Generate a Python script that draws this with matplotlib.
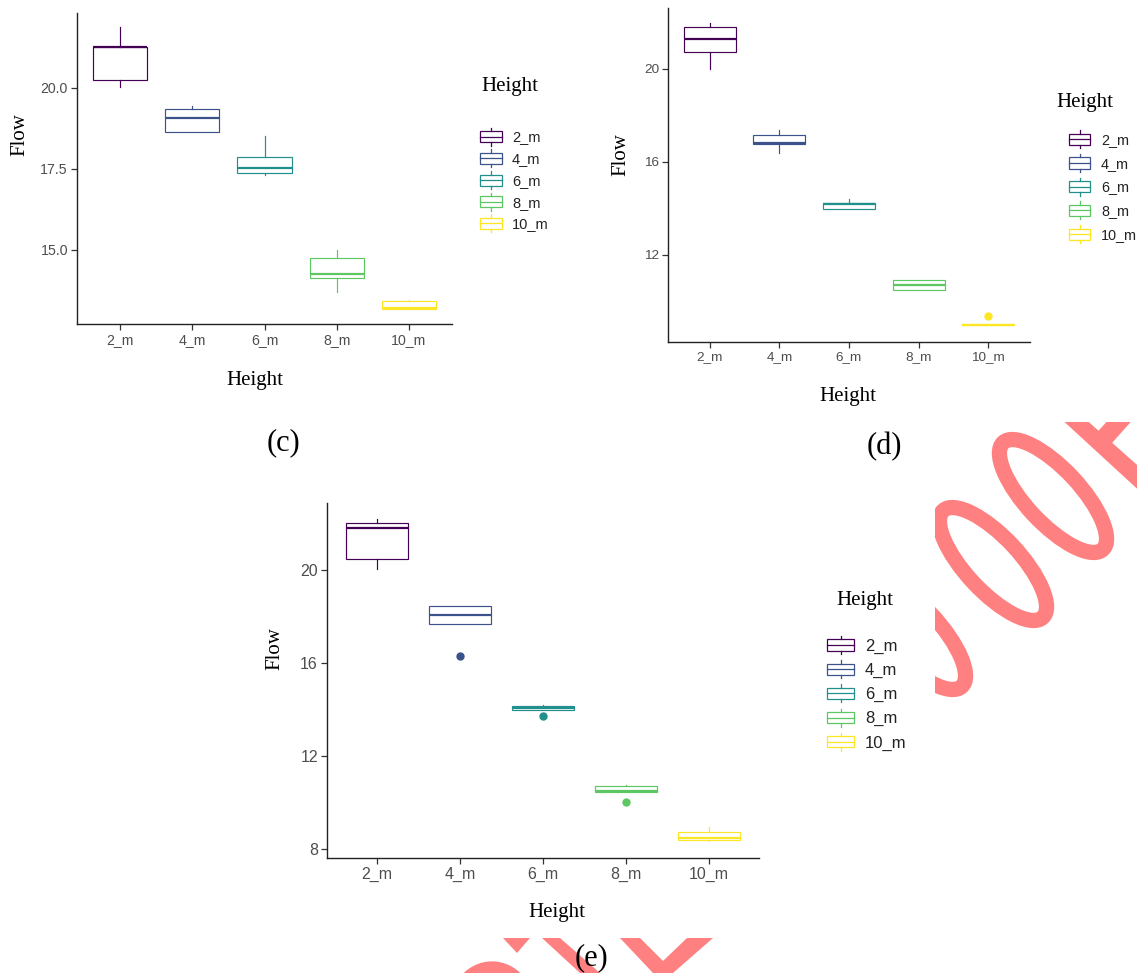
import matplotlib
matplotlib.use("Agg")
import matplotlib.pyplot as plt
from matplotlib.patches import Rectangle, Patch, Ellipse, Polygon
from matplotlib.lines import Line2D
from matplotlib.legend_handler import HandlerBase

W, H = 1137, 973
SERIF = "Liberation Serif"
SANS = "Liberation Sans"
plt.rcParams["font.family"] = SANS

heights = ["2_m", "4_m", "6_m", "8_m", "10_m"]
colors = ["#440154", "#3B528B", "#21908C", "#5DC863", "#FDE725"]

# panel (c): box stats
c_low = [20.03, 18.64, 17.30, 13.70, 13.18]
c_q1 = [20.24, 18.64, 17.36, 14.13, 13.18]
c_med = [21.24, 19.07, 17.52, 14.25, 13.20]
c_q3 = [21.24, 19.34, 17.85, 14.75, 13.43]
c_high = [21.86, 19.42, 18.50, 15.00, 13.46]
c_out = [[], [], [], [], []]

# panel (d)
d_low = [20.00, 16.37, 13.95, 10.49, 9.00]
d_q1 = [20.70, 16.76, 13.95, 10.49, 9.00]
d_med = [21.28, 16.80, 14.17, 10.72, 9.00]
d_q3 = [21.78, 17.16, 14.21, 10.90, 9.02]
d_high = [21.94, 17.35, 14.38, 10.90, 9.02]
d_out = [[], [], [], [], [9.37]]

# panel (e)
e_low = [20.04, 17.69, 13.99, 10.46, 8.35]
e_q1 = [20.50, 17.69, 13.99, 10.46, 8.39]
e_med = [21.81, 18.08, 14.06, 10.50, 8.45]
e_q3 = [22.02, 18.44, 14.15, 10.70, 8.71]
e_high = [22.20, 18.48, 14.20, 10.75, 8.94]
e_out = [[], [16.31], [13.73], [10.00], []]

c_ticks = [15.0, 17.5, 20.0]
d_ticks = [12, 16, 20]
e_ticks = [8, 12, 16, 20]


def fx(x, y):
    # image pixel -> figure fraction
    return x / W, 1 - y / H


def inch(x, y):
    return x / 100, (H - y) / 100


class BoxKey(HandlerBase):
    def create_artists(self, legend, orig_handle, xdescent, ydescent,
                       width, height, fontsize, trans):
        col = orig_handle.get_edgecolor()
        x0, y0 = -xdescent, -ydescent
        bh = 0.62 * height
        by = y0 + (height - bh) / 2
        xm = x0 + width / 2
        arts = [Rectangle((x0, by), width, bh, facecolor="white", edgecolor=col, lw=0.9),
                Line2D([x0, x0 + width], [by + bh / 2] * 2, color=col, lw=0.9),
                Line2D([xm, xm], [by + bh, y0 + height], color=col, lw=0.9),
                Line2D([xm, xm], [y0, by], color=col, lw=0.9)]
        for a in arts:
            a.set_transform(trans)
        return arts


def draw_boxes(ax, low, q1, med, q3, high, out):
    for i, col in enumerate(colors):
        st = [dict(whislo=low[i], q1=q1[i], med=med[i], q3=q3[i],
                   whishi=high[i], fliers=out[i])]
        ax.bxp(st, positions=[i], widths=0.75, showcaps=False, patch_artist=True,
               manage_ticks=False,
               boxprops=dict(facecolor="white", edgecolor=col, linewidth=0.85),
               whiskerprops=dict(color=col, linewidth=0.85),
               medianprops=dict(color=col, linewidth=1.6),
               flierprops=dict(marker="o", markersize=5, markerfacecolor=col,
                               markeredgecolor=col, linestyle="none"))


layout = [
    dict(stats=(c_low, c_q1, c_med, c_q3, c_high, c_out), ticks=c_ticks, fmt="{:.1f}",
         rect=(77, 13, 452, 324), ylim=(12.72, 22.3), tick_fs=10.2, tag="(c)",
         ylab=(20, 135), xlab=(255, 381), tagpos=(283, 443),
         ltitle=(481, 87), leg=(480, 136.7, 22, 21.7, 10), leg_fs=10.5),
    dict(stats=(d_low, d_q1, d_med, d_q3, d_high, d_out), ticks=d_ticks, fmt="{:.0f}",
         rect=(668, 8, 1030, 342), ylim=(8.25, 22.6), tick_fs=9.7, tag="(d)",
         ylab=(621, 155), xlab=(848, 397), tagpos=(884, 447),
         ltitle=(1056, 103), leg=(1069, 139.3, 21, 23.7, 11), leg_fs=10.4),
    dict(stats=(e_low, e_q1, e_med, e_q3, e_high, e_out), ticks=e_ticks, fmt="{:.0f}",
         rect=(327, 503, 759, 858), ylim=(7.6, 22.9), tick_fs=11.5, tag="(e)",
         ylab=(275, 649), xlab=(557, 912), tagpos=(592, 958),
         ltitle=(836, 600), leg=(827, 645, 27, 24.2, 11), leg_fs=12),
]

fig = plt.figure(figsize=(W / 100, H / 100), dpi=100)

for p in layout:
    l, t, r, b = p["rect"]
    ax = fig.add_axes([l / W, 1 - b / H, (r - l) / W, (b - t) / H])
    draw_boxes(ax, *p["stats"])
    ax.set_xlim(-0.6, 4.6)
    ax.set_ylim(*p["ylim"])
    ax.set_xticks(range(len(heights)))
    ax.set_xticklabels(heights)
    ax.set_yticks(p["ticks"])
    ax.set_yticklabels([p["fmt"].format(v) for v in p["ticks"]])
    for sp in ("top", "right"):
        ax.spines[sp].set_visible(False)
    for sp in ("left", "bottom"):
        ax.spines[sp].set_linewidth(1.0)
        ax.spines[sp].set_color("#222222")
    ax.tick_params(length=4, width=0.9, color="#333333", labelcolor="#4D4D4D",
                   labelsize=p["tick_fs"], pad=2.5)

    fig.text(*fx(*p["ylab"]), "Flow", family=SERIF, size=15, rotation=90,
             ha="center", va="center")
    fig.text(*fx(*p["xlab"]), "Height", family=SERIF, size=15, ha="center", va="center")
    fig.text(*fx(*p["tagpos"]), p["tag"], family=SERIF, size=22, ha="center",
             va="center", zorder=5)

    # legend: title as separate text, keys drawn by BoxKey
    fig.text(*fx(*p["ltitle"]), "Height", family=SERIF, size=15, ha="left", va="center")
    left, first, kw, pitch, gap = p["leg"]
    fs = p["leg_fs"]
    fs_px = fs * 100 / 72
    kh = 18
    # matplotlib trims 0.35*fs*(hh-0.7) off the handle height, undo that
    hh = (kh * 0.72 / fs - 0.245) / 0.65
    handles = [Patch(edgecolor=c, facecolor="white") for c in colors]
    fig.legend(handles, heights, handler_map={Patch: BoxKey()}, loc="upper left",
               bbox_to_anchor=fx(left, first - kh / 2), frameon=False,
               borderpad=0, borderaxespad=0, handlelength=kw / fs_px,
               handleheight=hh, labelspacing=(pitch - kh) / fs_px,
               handletextpad=gap / fs_px, prop=dict(family=SANS, size=fs),
               labelcolor="#222222")

# pink watermark strokes over the lower right and bottom edge
wm = "#FF8080"
tr = fig.dpi_scale_trans
clip_r = Rectangle(inch(935, 705), (W - 935) / 100, (705 - 422) / 100, transform=tr)
clip_b = Rectangle(inch(0, H), W / 100, (H - 938) / 100, transform=tr)

marks_r = [
    Ellipse(inch(1053, 496), 1.46, 0.54, angle=-47, fill=False, ec=wm, lw=11, transform=tr),
    Ellipse(inch(993, 564), 1.46, 0.54, angle=-47, fill=False, ec=wm, lw=11, transform=tr),
    Ellipse(inch(912, 633), 1.46, 0.54, angle=-47, fill=False, ec=wm, lw=11, transform=tr),
    Polygon([inch(1058, 416), inch(1082, 416), inch(1145, 472), inch(1145, 496)],
            fc=wm, ec="none", transform=tr),
    Polygon([inch(1112, 416), inch(1136, 416), inch(1104, 452), inch(1090, 440)],
            fc=wm, ec="none", transform=tr),
]
marks_b = [
    Ellipse(inch(492, 1010), 0.72, 0.82, fill=False, ec=wm, lw=11, transform=tr),
    Polygon([inch(503, 938), inch(530, 938), inch(517, 953)], fc=wm, ec="none", transform=tr),
    Polygon([inch(542, 938), inch(560, 938), inch(600, 973), inch(580, 973)],
            fc=wm, ec="none", transform=tr),
    Polygon([inch(620, 938), inch(640, 938), inch(663, 961), inch(687, 938),
             inch(713, 938), inch(673, 973), inch(653, 973)], fc=wm, ec="none", transform=tr),
]
for m in marks_r:
    m.set_clip_path(clip_r)
    m.set_zorder(1)
    fig.add_artist(m)
for m in marks_b:
    m.set_clip_path(clip_b)
    m.set_zorder(1)
    fig.add_artist(m)

fig.savefig("out.png", dpi=100)
